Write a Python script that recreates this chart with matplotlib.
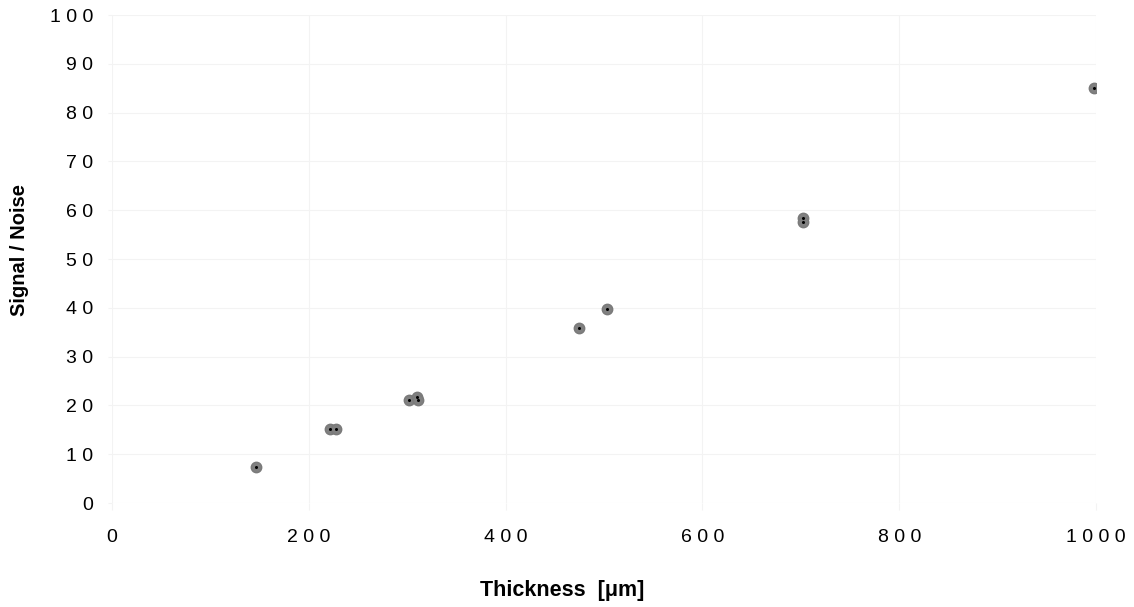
import matplotlib
matplotlib.use("Agg")
import matplotlib.pyplot as plt

plt.rcParams['font.family'] = ['Liberation Sans', 'DejaVu Sans']

thickness = [146, 222, 228, 302, 310, 311, 475, 503, 702, 702, 998]
snr = [7.4, 15.1, 15.1, 21.2, 21.8, 21.2, 35.9, 39.8, 58.3, 57.6, 85.0]

x_ticks = [0, 200, 400, 600, 800, 1000]
y_ticks = [0, 10, 20, 30, 40, 50, 60, 70, 80, 90, 100]

def spaced(v):
    return " ".join(str(v))

fig = plt.figure(figsize=(11.34, 6.07), dpi=100)
ax = fig.add_axes([112/1134, 104/607, (1096-112)/1134, (503-15)/607])

grid_c = '#f3f3f3'
ax.set_xlim(0, 1000)
ax.set_ylim(0, 100)
ax.set_xticks(x_ticks)
ax.set_yticks(y_ticks)
ax.set_xticklabels([spaced(v) for v in x_ticks], fontsize=14)
ax.set_yticklabels([spaced(v) for v in y_ticks], fontsize=14)
ax.grid(True, color=grid_c, linewidth=0.8)
ax.set_axisbelow(True)
for s in ax.spines.values():
    s.set_visible(False)
ax.tick_params(axis='x', length=5, color=grid_c, pad=13.5)
ax.tick_params(axis='y', length=3, color=grid_c, pad=10.7)

ax.plot(thickness, snr, linestyle='none', marker='o', markersize=7.5,
        markerfacecolor='#808080', markeredgecolor='#7a7a7a', zorder=3)
ax.plot(thickness, snr, linestyle='none', marker='o', markersize=1.2,
        markerfacecolor='black', markeredgecolor='black', zorder=4)

ax.set_xlabel('Thickness  [μm]', fontsize=15.5, fontweight='bold', va='center')
ax.xaxis.set_label_coords(0.457, -0.180)
ax.set_ylabel('Signal / Noise', fontsize=14.5, fontweight='bold', va='center')
ax.yaxis.set_label_coords(-0.0935, 0.518)

fig.savefig('out.png', dpi=100, facecolor='white')
